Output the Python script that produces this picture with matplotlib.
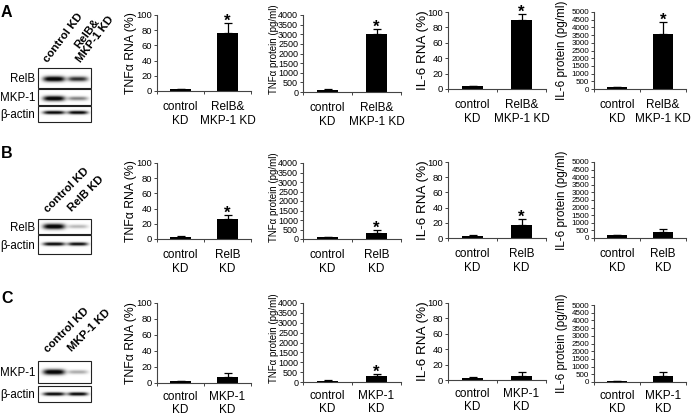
import matplotlib
matplotlib.use('Agg')
import matplotlib.pyplot as plt
from matplotlib.patches import Rectangle
import numpy as np

plt.rcParams['font.family'] = ['Liberation Sans', 'DejaVu Sans']

# ---------------- data ----------------
cats_A = ["control\nKD", "RelB&\nMKP-1 KD"]
cats_B = ["control\nKD", "RelB\nKD"]
cats_C = ["control\nKD", "MKP-1\nKD"]

ylabels = ["TNF\u03b1 RNA (%)", "TNF\u03b1 protein (pg/ml)", "IL-6 RNA (%)", "IL-6 protein (pg/ml)"]
ymax = [100, 4000, 100, 5000]
ystep = [20, 500, 20, 500]

# row A
tnf_rna_A = [2, 76];        tnf_rna_A_err = [0.5, 14]
tnf_prot_A = [110, 3030];   tnf_prot_A_err = [20, 220]
il6_rna_A = [3.5, 89];      il6_rna_A_err = [0.5, 8]
il6_prot_A = [110, 3550];   il6_prot_A_err = [40, 800]
stars_A = [[False, True], [False, True], [False, True], [False, True]]

# row B
tnf_rna_B = [2, 26];        tnf_rna_B_err = [1.5, 5]
tnf_prot_B = [80, 330];     tnf_prot_B_err = [30, 170]
il6_rna_B = [3, 17.5];      il6_rna_B_err = [1, 7.5]
il6_prot_B = [170, 370];    il6_prot_B_err = [60, 250]
stars_B = [[False, True], [False, True], [False, True], [False, False]]

# row C
tnf_rna_C = [2, 7.5];       tnf_rna_C_err = [1, 5]
tnf_prot_C = [55, 290];     tnf_prot_C_err = [30, 140]
il6_rna_C = [2.6, 5.6];     il6_rna_C_err = [1, 4.5]
il6_prot_C = [65, 370];     il6_prot_C_err = [25, 260]
stars_C = [[False, False], [False, True], [False, False], [False, False]]

# western blots (band strength per lane)
blotA_rows = ["RelB", "MKP-1", "\u03b2-actin"]
blotA_level = [[1.0, 0.75], [1.0, 0.45], [0.95, 0.95]]
blotB_rows = ["RelB", "\u03b2-actin"]
blotB_level = [[1.0, 0.25], [0.95, 0.9]]
blotC_rows = ["MKP-1", "\u03b2-actin"]
blotC_level = [[1.0, 0.3], [0.95, 0.95]]

# ---------------- figure ----------------
W, H = 691, 417
fig = plt.figure(figsize=(W / 100, H / 100), dpi=100)


def px_axes(left, top, right, bottom):
    return fig.add_axes([left / W, 1 - bottom / H, (right - left) / W, (bottom - top) / H])


label_right_px = [137, 279, 429, 568]
label_size = [8.8, 7.0, 9.7, 8.5]
label_ypos = [0.5, 0.55, 0.5, 0.5]
tick_size = [6.8, 6.5, 6.8, 5.8]


def bar_panel(ax, cats, vals, errs, stars, col, l, r, xpad):
    x = np.arange(len(cats))
    ax.bar(x, vals, width=0.43, color='black', zorder=2)
    ax.errorbar(x, vals, yerr=[np.zeros(len(vals)), errs], fmt='none', ecolor='black',
                elinewidth=0.9, capsize=2.6, capthick=0.9, zorder=3)
    ax.set_xlim(-0.5, len(cats) - 0.5)
    ax.set_ylim(0, ymax[col])
    ax.set_yticks(np.arange(0, ymax[col] + 1, ystep[col]))
    for s in ['top', 'right']:
        ax.spines[s].set_visible(False)
    for s in ['left', 'bottom']:
        ax.spines[s].set_color('#444444')
        ax.spines[s].set_linewidth(0.8)
    ax.set_xticks([-0.5, 0.5, 1.5])
    ax.set_xticklabels([])
    ax.set_xticks(x, minor=True)
    ax.set_xticklabels(cats, minor=True, fontsize=8.5, linespacing=1.15)
    ax.tick_params(axis='x', which='major', length=2.5, width=0.7, color='#444444')
    ax.tick_params(axis='x', which='minor', length=0, pad=xpad)
    ax.tick_params(axis='y', length=2.5, width=0.7, color='#444444', labelsize=tick_size[col], pad=1.0)
    ax.set_ylabel(ylabels[col], fontsize=label_size[col])
    ax.yaxis.set_label_coords((label_right_px[col] - l) / (r - l), label_ypos[col])
    for xi, v, e, st in zip(x, vals, errs, stars):
        if st:
            ax.annotate('*', (xi, v + e), xytext=(0, -2.0), textcoords='offset points',
                        ha='center', va='baseline', fontsize=12, fontweight='bold')


rows = [
    (cats_A, [(tnf_rna_A, tnf_rna_A_err), (tnf_prot_A, tnf_prot_A_err),
              (il6_rna_A, il6_rna_A_err), (il6_prot_A, il6_prot_A_err)], stars_A,
     [(15, 91), (15, 92), (12, 89), (12, 89)], 7.5),
    (cats_B, [(tnf_rna_B, tnf_rna_B_err), (tnf_prot_B, tnf_prot_B_err),
              (il6_rna_B, il6_rna_B_err), (il6_prot_B, il6_prot_B_err)], stars_B,
     [(163, 239), (163, 239), (162, 238), (162, 238)], 7.5),
    (cats_C, [(tnf_rna_C, tnf_rna_C_err), (tnf_prot_C, tnf_prot_C_err),
              (il6_rna_C, il6_rna_C_err), (il6_prot_C, il6_prot_C_err)], stars_C,
     [(303, 383), (303, 382), (303, 380), (305, 382)], 5.5),
]
col_x = [(157, 251), (303, 401), (448, 546), (594, 686)]

for cats, series, stars, ylims, xpad in rows:
    for col in range(4):
        (top, bot) = ylims[col]
        l, r = col_x[col]
        ax = px_axes(l, top, r, bot)
        vals, errs = series[col]
        bar_panel(ax, cats, vals, errs, stars[col], col, l, r, xpad)

# ---------------- overlay for blots & letters ----------------
ov = fig.add_axes([0, 0, 1, 1])
ov.set_xlim(0, W)
ov.set_ylim(H, 0)
ov.axis('off')

lane_x = [54, 78]
lane_hw = [11, 10]


def draw_blot(row_names, levels, boxes, band_y, band_t):
    for name, lev, (y0, y1), yc, t in zip(row_names, levels, boxes, band_y, band_t):
        xs = np.linspace(38, 91, 120)
        ys = np.linspace(y0, y1, 60)
        X, Y = np.meshgrid(xs, ys)
        img = np.zeros_like(X)
        for li, (xc, hw) in enumerate(zip(lane_x, lane_hw)):
            a = lev[li]
            th = t * (0.6 + 0.4 * a)
            img += a * np.exp(-np.abs((X - xc) / hw) ** 4) * np.exp(-((Y - yc) / th) ** 2)
        img = np.clip(img * 1.15, 0, 1)
        ov.imshow(1 - 0.97 * img, cmap='gray', vmin=0, vmax=1, extent=[38, 91, y1, y0],
                  aspect='auto', interpolation='bilinear', zorder=1)
        ov.add_patch(Rectangle((38, y0), 53, y1 - y0, fill=False, edgecolor='#222222', lw=0.8, zorder=2))
        ov.text(35, (y0 + y1) / 2 + 1, name, ha='right', va='center', fontsize=8.3)
    ov.set_xlim(0, W)
    ov.set_ylim(H, 0)


draw_blot(blotA_rows, blotA_level, [(68, 88), (89, 105), (106, 122)], [79, 98.5, 112.5], [2.8, 2.6, 1.8])
draw_blot(blotB_rows, blotB_level, [(219, 234), (235, 254)], [226.5, 244], [2.8, 1.8])
draw_blot(blotC_rows, blotC_level, [(361, 383), (386, 402)], [372, 394], [2.8, 1.8])

lbl = dict(ha='left', va='baseline', rotation_mode='anchor', fontsize=8.2, fontweight='bold')
ov.text(48, 63, "control KD", rotation=53, **lbl)
ov.text(81, 63, "RelB&\nMKP-1 KD", rotation=53, multialignment='center', linespacing=1.0, **lbl)
ov.text(48, 213, "control KD", rotation=45, **lbl)
ov.text(72, 212, "RelB KD", rotation=45, **lbl)
ov.text(48, 353, "control KD", rotation=45, **lbl)
ov.text(72, 352, "MKP-1 KD", rotation=45, **lbl)

for letter, y in [("A", 17), ("B", 158), ("C", 303)]:
    ov.text(1, y, letter, ha='left', va='baseline', fontsize=11.5, fontweight='bold')

fig.savefig('out.png', dpi=100)
